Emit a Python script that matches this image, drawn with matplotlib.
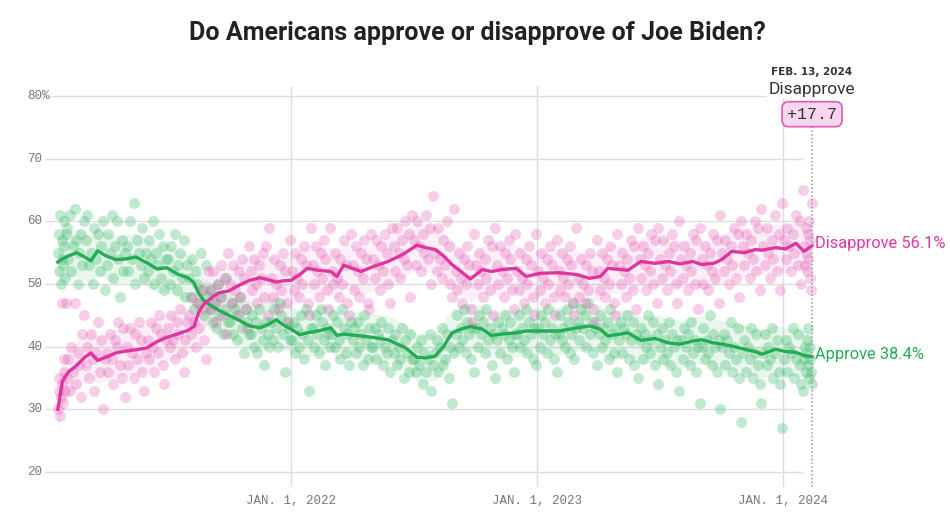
import matplotlib.pyplot as plt
import matplotlib.dates as mdates
import matplotlib.transforms as mtransforms
from datetime import date

# trend lines (poll average)
TREND_DATES = [
    "2021-01-20", "2021-01-27", "2021-02-05", "2021-02-17", "2021-03-01", "2021-03-10",
    "2021-03-20", "2021-04-01", "2021-04-16", "2021-05-01", "2021-05-16", "2021-06-01",
    "2021-06-16", "2021-07-01", "2021-07-16", "2021-08-01", "2021-08-10", "2021-08-17",
    "2021-08-25", "2021-09-05", "2021-09-16", "2021-10-01", "2021-10-16", "2021-11-01",
    "2021-11-16", "2021-12-01", "2021-12-10", "2021-12-20", "2022-01-01", "2022-01-14",
    "2022-01-25", "2022-02-10", "2022-03-01", "2022-03-10", "2022-03-20", "2022-04-15",
    "2022-05-01", "2022-05-25", "2022-06-10", "2022-06-20", "2022-07-07", "2022-07-20",
    "2022-08-03", "2022-08-15", "2022-08-28", "2022-09-10", "2022-09-24", "2022-10-12",
    "2022-10-25", "2022-11-10", "2022-12-01", "2022-12-16", "2023-01-05", "2023-02-03",
    "2023-03-01", "2023-03-20", "2023-04-05", "2023-04-16", "2023-05-16", "2023-06-04",
    "2023-06-25", "2023-07-15", "2023-08-01", "2023-08-20", "2023-09-02", "2023-09-20",
    "2023-10-02", "2023-10-17", "2023-11-05", "2023-11-21", "2023-12-01", "2023-12-21",
    "2024-01-05", "2024-01-20", "2024-02-01", "2024-02-13",
]
APPROVE_TREND = [
    53.5, 54.0, 54.5, 55.0, 54.3, 53.7, 55.3, 54.5, 53.9, 54.0, 54.3, 53.4,
    52.4, 52.6, 51.6, 51.0, 50.2, 48.5, 47.3, 46.5, 45.8, 45.0, 44.2, 43.3,
    43.0, 43.7, 44.3, 43.5, 42.8, 41.9, 42.2, 42.5, 43.0, 41.8, 42.0, 41.7,
    41.5, 41.1, 40.3, 39.8, 38.3, 38.2, 38.5, 40.0, 42.2, 42.8, 43.2, 42.8,
    41.8, 42.0, 42.2, 42.5, 42.5, 42.5, 43.0, 43.3, 42.8, 41.7, 42.2, 41.0,
    41.3, 40.6, 40.4, 40.9, 41.1, 40.6, 40.4, 40.1, 39.6, 39.2, 38.8, 39.6,
    39.2, 39.1, 38.6, 38.4,
]
DISAPPROVE_TREND = [
    30.0, 34.5, 36.0, 37.0, 38.3, 39.0, 37.8, 38.3, 39.0, 39.3, 39.5, 39.8,
    40.8, 41.5, 42.0, 42.6, 43.2, 45.5, 46.8, 47.8, 48.6, 48.9, 49.8, 50.6,
    51.0, 50.6, 50.3, 50.5, 50.6, 51.5, 52.5, 52.2, 52.0, 51.2, 53.0, 52.0,
    52.7, 53.6, 54.4, 55.0, 56.2, 55.8, 55.5, 54.5, 53.1, 52.0, 50.8, 52.3,
    52.0, 52.3, 52.5, 51.2, 51.7, 51.8, 51.5, 50.9, 51.2, 52.5, 52.2, 53.6,
    53.3, 53.6, 53.2, 53.6, 53.1, 53.3, 53.9, 55.2, 55.0, 55.5, 55.4, 55.8,
    55.6, 56.5, 55.2, 56.1,
]

# individual polls, grouped by month (Jan 2021 .. Feb 2024)
POLL_MONTHS = [(2021, m) for m in range(1, 13)] + [(2022, m) for m in range(1, 13)] + \
              [(2023, m) for m in range(1, 13)] + [(2024, 1), (2024, 2)]
APPROVE_POLLS = [
    [55, 52, 58, 61, 50, 54, 57, 53, 60, 56, 51, 58],
    [59, 54, 61, 52, 56, 62, 57, 50, 55, 58, 53, 60],
    [57, 61, 53, 55, 50, 59, 54, 58, 52, 56, 60, 49],
    [53, 58, 55, 61, 51, 56, 60, 54, 48, 57, 52, 55],
    [56, 52, 60, 54, 63, 50, 57, 55, 53, 59, 51, 55],
    [52, 57, 54, 60, 50, 55, 53, 58, 51, 56, 49, 54],
    [54, 50, 56, 52, 58, 49, 53, 55, 51, 57, 48, 53],
    [51, 48, 54, 46, 52, 50, 47, 55, 49, 45, 53, 48],
    [46, 49, 44, 47, 43, 50, 45, 48, 42, 46, 51, 44],
    [44, 47, 42, 46, 41, 45, 48, 43, 39, 46, 44, 42],
    [42, 45, 40, 44, 39, 46, 43, 41, 37, 44, 42, 40],
    [44, 41, 46, 43, 40, 47, 45, 42, 36, 44, 43, 41],
    [41, 44, 39, 43, 40, 45, 42, 38, 46, 41, 33, 43],
    [43, 40, 45, 42, 39, 46, 44, 41, 37, 43, 42, 40],
    [42, 45, 40, 44, 41, 38, 46, 43, 39, 42, 37, 44],
    [41, 43, 39, 44, 40, 42, 37, 45, 41, 38, 43, 40],
    [40, 43, 38, 42, 41, 44, 37, 40, 39, 43, 36, 41],
    [39, 42, 37, 40, 38, 43, 35, 41, 39, 36, 42, 38],
    [38, 36, 40, 37, 41, 34, 39, 36, 38, 42, 33, 37],
    [39, 41, 36, 40, 43, 37, 38, 42, 35, 40, 31, 39],
    [42, 45, 40, 43, 41, 46, 39, 44, 42, 38, 43, 36],
    [43, 40, 45, 42, 44, 39, 46, 41, 43, 37, 42, 35],
    [41, 44, 39, 43, 42, 45, 38, 41, 44, 40, 36, 42],
    [42, 45, 40, 43, 41, 46, 39, 44, 42, 38, 43, 37],
    [43, 40, 45, 42, 44, 39, 46, 41, 43, 38, 42, 36],
    [42, 45, 41, 43, 40, 46, 44, 39, 42, 47, 38, 43],
    [44, 41, 46, 43, 45, 40, 47, 42, 44, 39, 43, 37],
    [42, 45, 40, 43, 41, 44, 38, 46, 42, 39, 43, 36],
    [41, 44, 39, 43, 42, 45, 38, 41, 44, 37, 42, 35],
    [41, 43, 38, 42, 40, 45, 39, 41, 44, 37, 42, 34],
    [40, 43, 38, 41, 39, 44, 37, 42, 40, 36, 41, 33],
    [41, 38, 43, 40, 42, 37, 44, 39, 41, 36, 40, 31],
    [40, 43, 38, 41, 39, 45, 37, 42, 40, 36, 41, 30],
    [40, 42, 37, 41, 39, 44, 36, 40, 38, 43, 35, 28],
    [39, 41, 36, 40, 38, 43, 35, 39, 42, 37, 34, 31],
    [39, 42, 37, 40, 38, 43, 35, 39, 41, 36, 34, 27],
    [38, 41, 36, 40, 39, 43, 35, 38, 42, 37, 34, 33],
    [38, 40, 36, 39, 41, 37, 43, 35, 38, 40, 36, 34],
]
DISAPPROVE_POLLS = [
    [30, 33, 35, 29, 32, 47, 34, 31, 36, 38, 33, 47],
    [35, 38, 33, 40, 36, 47, 34, 39, 37, 32, 42, 45],
    [37, 40, 35, 42, 38, 33, 39, 44, 36, 41, 30, 38],
    [39, 36, 42, 38, 34, 41, 40, 44, 37, 35, 43, 32],
    [40, 37, 43, 39, 35, 42, 38, 44, 41, 36, 33, 39],
    [41, 38, 44, 40, 36, 43, 39, 45, 42, 37, 34, 41],
    [43, 40, 45, 41, 38, 44, 42, 46, 39, 36, 41, 44],
    [45, 42, 48, 44, 40, 47, 43, 49, 46, 41, 38, 52],
    [49, 46, 52, 47, 44, 50, 48, 53, 45, 51, 42, 55],
    [50, 47, 53, 49, 45, 52, 48, 54, 51, 46, 43, 56],
    [52, 49, 54, 50, 47, 53, 51, 55, 48, 56, 45, 59],
    [51, 48, 54, 50, 46, 53, 49, 55, 52, 47, 44, 57],
    [52, 49, 55, 51, 48, 54, 50, 56, 53, 47, 45, 59],
    [53, 50, 56, 52, 48, 55, 51, 57, 54, 49, 46, 59],
    [52, 50, 55, 51, 48, 54, 50, 57, 53, 47, 45, 58],
    [53, 49, 56, 52, 48, 55, 51, 57, 54, 47, 46, 58],
    [54, 51, 57, 53, 49, 56, 52, 58, 55, 50, 47, 59],
    [56, 52, 59, 55, 51, 57, 54, 60, 53, 58, 48, 61],
    [57, 53, 60, 56, 52, 58, 55, 61, 54, 59, 50, 64],
    [55, 52, 59, 54, 51, 57, 53, 60, 56, 50, 48, 62],
    [52, 49, 55, 51, 47, 54, 50, 56, 53, 46, 44, 58],
    [53, 50, 55, 52, 48, 54, 51, 57, 49, 56, 45, 59],
    [53, 50, 56, 52, 48, 55, 51, 57, 54, 49, 46, 58],
    [52, 49, 55, 51, 47, 54, 50, 56, 53, 48, 45, 58],
    [52, 49, 55, 51, 47, 54, 50, 56, 53, 48, 45, 57],
    [52, 49, 55, 51, 48, 54, 50, 56, 53, 47, 45, 59],
    [51, 48, 54, 50, 47, 53, 49, 55, 52, 46, 44, 57],
    [52, 49, 55, 51, 48, 54, 50, 56, 53, 47, 45, 58],
    [53, 50, 55, 52, 48, 54, 51, 57, 49, 56, 46, 59],
    [54, 51, 56, 53, 49, 55, 52, 58, 50, 57, 47, 59],
    [54, 51, 57, 53, 49, 55, 52, 58, 56, 50, 47, 60],
    [54, 51, 56, 53, 49, 55, 52, 58, 50, 57, 46, 59],
    [54, 50, 56, 53, 49, 55, 52, 58, 51, 57, 47, 61],
    [55, 52, 57, 54, 50, 56, 53, 59, 51, 58, 48, 60],
    [56, 53, 58, 55, 51, 57, 54, 60, 52, 59, 49, 62],
    [56, 53, 59, 55, 51, 57, 54, 61, 52, 58, 49, 63],
    [57, 54, 59, 56, 52, 58, 55, 61, 53, 60, 50, 65],
    [56, 53, 59, 55, 52, 58, 54, 60, 57, 51, 49, 63],
]

START = date(2021, 1, 20)
END = date(2024, 2, 13)
Y_TICKS = [20, 30, 40, 50, 60, 70, 80]
YEAR_TICKS = [date(2022, 1, 1), date(2023, 1, 1), date(2024, 1, 1)]
YEAR_LABELS = ["JAN. 1, 2022", "JAN. 1, 2023", "JAN. 1, 2024"]

GREEN = "#22ad55"
GREEN_DOT = "#3dbb6c"
PINK = "#e0359f"
PINK_DOT = "#e45db6"
GRID = "#dddddd"
TICK = "#777777"
MONO = "Liberation Mono"


def poll_dates(year, month, n):
    lo = max(date(year, month, 1), START)
    hi = date(year + (month == 12), month % 12 + 1, 1)
    hi = min(hi, END)
    a, b = mdates.date2num(lo), mdates.date2num(hi)
    return [a + (k + 0.5) / n * (b - a) for k in range(n)]


fig = plt.figure(figsize=(9.5, 5.17), dpi=100)
ax = fig.add_axes([45 / 950, 30 / 517, 825 / 950, 401 / 517])
ax.set_xlim(mdates.date2num(date(2021, 1, 1)), mdates.date2num(date(2024, 5, 9)))
ax.set_ylim(17.6, 81.6)
ax.axis("off")

# grid
x_grid_end = mdates.date2num(date(2024, 1, 31))
for v in Y_TICKS:
    ax.hlines(v, mdates.date2num(date(2021, 1, 1)), x_grid_end, color=GRID, lw=1, zorder=0)
for d in YEAR_TICKS:
    ax.axvline(mdates.date2num(d), color=GRID, lw=1, zorder=0)

tdates = [mdates.date2num(date.fromisoformat(s)) for s in TREND_DATES]

# uncertainty bands
band = 3.8
ax.fill_between(tdates, [v - band for v in APPROVE_TREND], [v + band for v in APPROVE_TREND],
                color=GREEN, alpha=0.10, lw=0, zorder=1)
ax.fill_between(tdates, [v - band for v in DISAPPROVE_TREND], [v + band for v in DISAPPROVE_TREND],
                color=PINK, alpha=0.08, lw=0, zorder=1)

# poll dots
for (yr, mo), ap, dp in zip(POLL_MONTHS, APPROVE_POLLS, DISAPPROVE_POLLS):
    xs = poll_dates(yr, mo, len(ap))
    ax.scatter(xs, ap, s=62, color=GREEN_DOT, alpha=0.32, lw=0, zorder=2)
    xs = poll_dates(yr, mo, len(dp))
    ax.scatter(xs, dp, s=62, color=PINK_DOT, alpha=0.30, lw=0, zorder=2)

# trend lines
ax.plot(tdates, APPROVE_TREND, color=GREEN, lw=2.4, zorder=4)
ax.plot(tdates, DISAPPROVE_TREND, color=PINK, lw=2.4, zorder=4)

# end labels
xe = mdates.date2num(END)
ax.text(xe + 4, DISAPPROVE_TREND[-1] + 0.4, f"Disapprove {DISAPPROVE_TREND[-1]:.1f}%", color=PINK,
        fontsize=11.8, family="Roboto", va="center", ha="left", clip_on=False)
ax.text(xe + 4, APPROVE_TREND[-1] + 0.3, f"Approve {APPROVE_TREND[-1]:.1f}%", color=GREEN,
        fontsize=11.8, family="Roboto", va="center", ha="left", clip_on=False)

# dotted marker line for latest date
ax.vlines(xe, 17.6, 75.5, color="#999999", lw=1.1, linestyles=(0, (1, 1.5)), zorder=5)
ax.text(xe, 83.8, "FEB. 13, 2024", fontsize=7.5, weight="bold", color="#333333",
        ha="center", va="center", clip_on=False)
ax.text(xe, 81.0, "Disapprove", fontsize=12.5, family="Roboto", color="#333333",
        ha="center", va="center", bbox=dict(facecolor="white", edgecolor="none", pad=1), zorder=6)
ax.text(xe, 77.1, f"+{DISAPPROVE_TREND[-1] - APPROVE_TREND[-1]:.1f}", fontsize=12,
        family=MONO, color="#333333", ha="center", va="center", zorder=6,
        bbox=dict(boxstyle="round,pad=0.3,rounding_size=0.4", facecolor="#fad6ee",
                  edgecolor="#e25ab6", lw=1.2))

# axis labels
ytrans = mtransforms.blended_transform_factory(fig.transFigure, ax.transData)
for v in Y_TICKS:
    ax.text(27 / 950, v, f"{v}%" if v == 80 else str(v), transform=ytrans, fontsize=9,
            family=MONO, color=TICK, ha="left", va="center")
for d, lab in zip(YEAR_TICKS, YEAR_LABELS):
    ax.text(mdates.date2num(d), 15.4, lab, fontsize=9, family=MONO, color=TICK,
            ha="center", va="center", clip_on=False)

fig.text(477 / 950, 1 - 33 / 517, "Do Americans approve or disapprove of Joe Biden?",
         fontsize=18, weight="bold", family="Roboto", color="#222222", ha="center", va="center")

fig.savefig("out.png", dpi=100)
